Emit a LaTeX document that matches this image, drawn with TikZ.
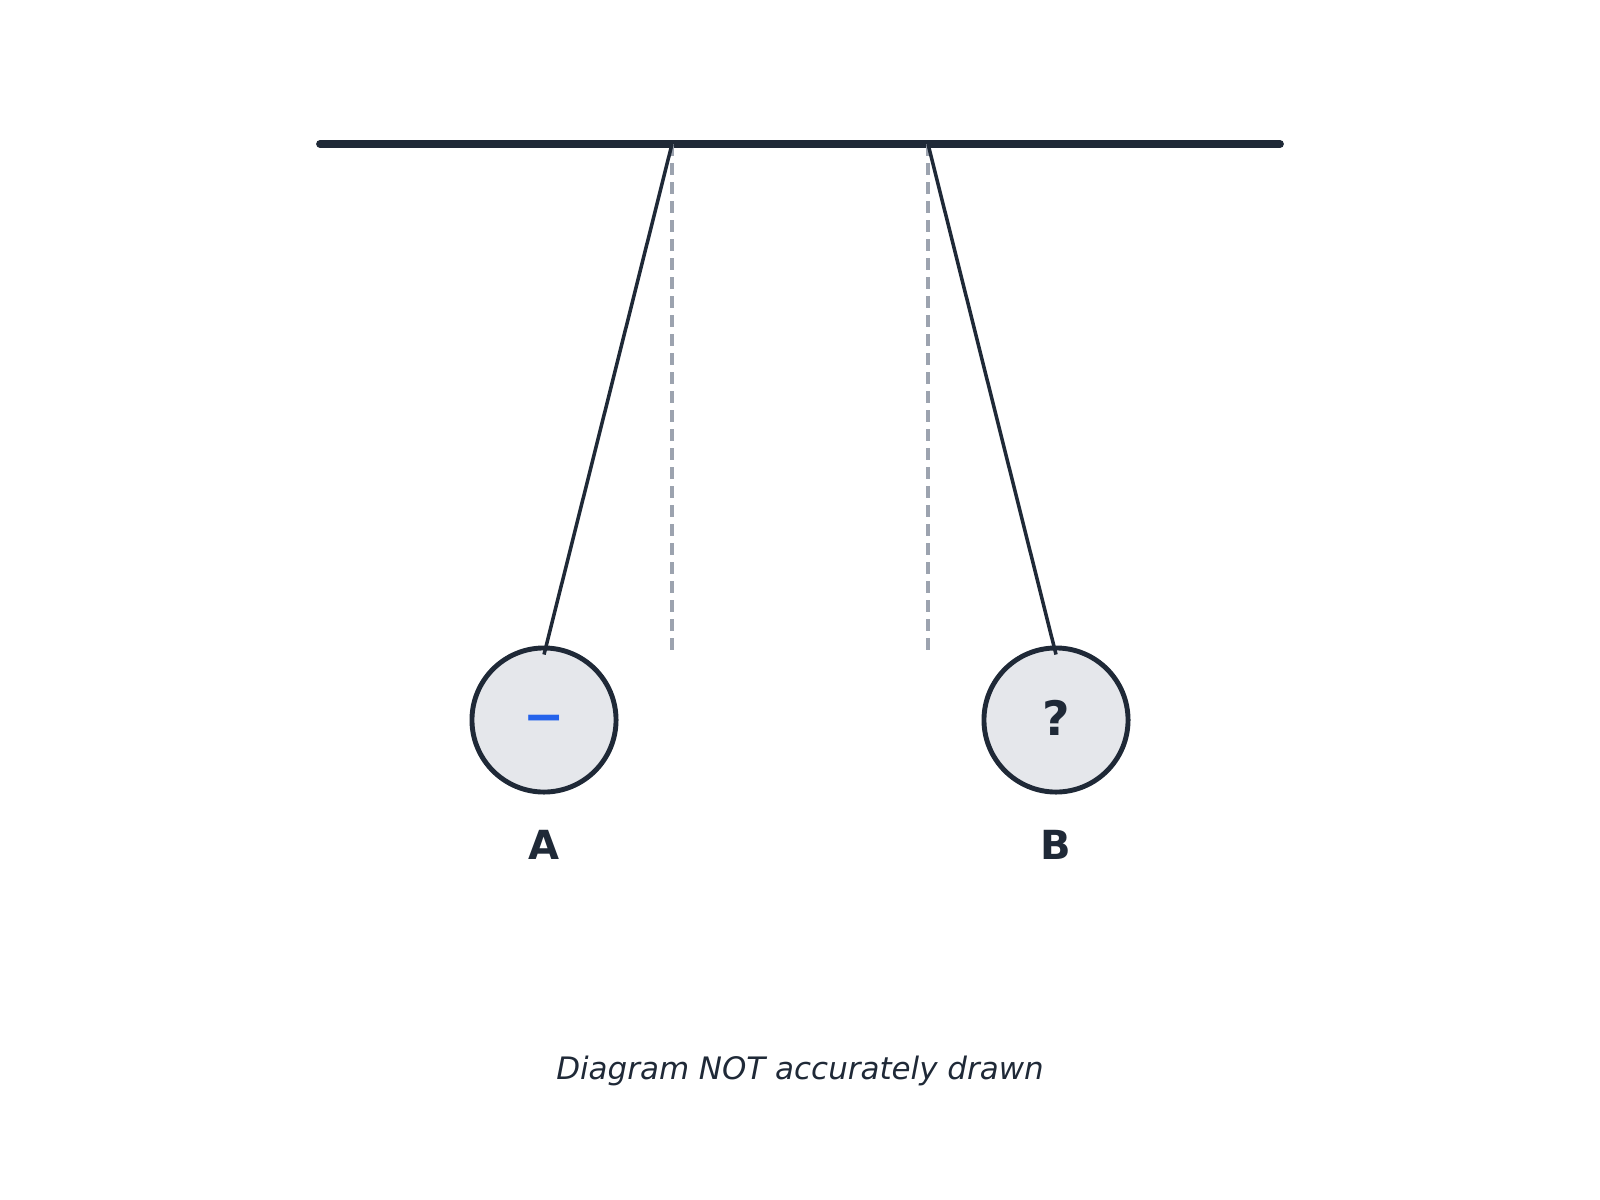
\documentclass[tikz,border=0pt]{standalone}
\usepackage{fontspec}
\setmainfont{DejaVu Sans}
\usetikzlibrary{positioning,calc}
\definecolor{ink}{HTML}{1F2937}
\definecolor{ballfill}{HTML}{E5E7EB}
\definecolor{guide}{HTML}{9CA3AF}
\definecolor{charge}{HTML}{2563EB}
\tikzset{
    bar/.style={draw=ink, line width=2.2pt, line cap=round},
    thread/.style={draw=ink, line width=1pt},
    vertical/.style={draw=guide, line width=0.9pt, dash pattern=on 0.12cm off 0.07cm},
    ball/.style={circle, draw=ink, fill=ballfill, line width=1.4pt, minimum size=1.44cm, inner sep=0pt},
    tag/.style={text=ink, font=\fontsize{11.4}{13}\selectfont\bfseries}
}

\begin{document}
\begin{tikzpicture}[x=0.01cm, y=-0.01cm]

    \useasboundingbox (0,0) rectangle (1600,1200);

    % support and pivots
    \coordinate (left) at (320,144);
    \coordinate (right) at (1280,144);
    \coordinate (pivotA) at (672,144);
    \coordinate (pivotB) at (928,144);
    \path[bar] (left) -- (right);

    % the balls
    \node[ball] (ballA) at (544,720) {};
    \node[ball] (ballB) at (1056,720) {};
    \node[text=charge, font=\fontsize{14}{16}\selectfont\bfseries] (signA) at ([yshift=-0.04cm]ballA.center) {−};
    \node[text=ink, font=\fontsize{13.5}{16}\selectfont\bfseries] (signB) at ([yshift=0.02cm]ballB.center) {?};
    \node[tag] (labelA) at (544,845) {A};
    \node[tag] (labelB) at (1056,845) {B};

    % vertical guides
    \coordinate (footA) at (672,656);
    \coordinate (footB) at (928,656);
    \path[vertical] (pivotA) -- (footA);
    \path[vertical] (pivotB) -- (footB);

    % threads
    \path[thread] (pivotA) -- ([yshift=-0.09cm]ballA.north);
    \path[thread] (pivotB) -- ([yshift=-0.09cm]ballB.north);

    \node[text=ink, font=\fontsize{8.8}{10}\selectfont\itshape] (note) at (800,1071) {Diagram NOT accurately drawn};

\end{tikzpicture}
\end{document}
